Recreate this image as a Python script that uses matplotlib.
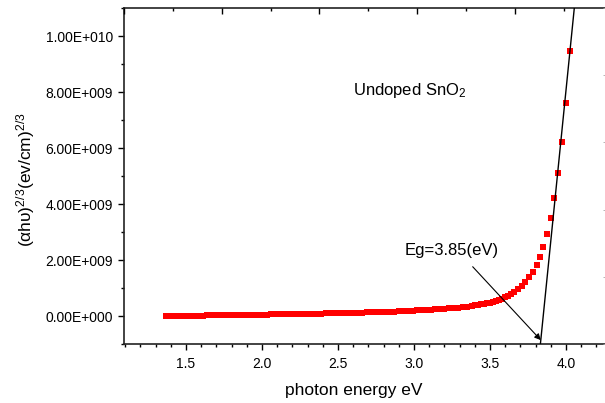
import matplotlib
matplotlib.use("Agg")
import matplotlib.pyplot as plt
from matplotlib.ticker import MultipleLocator, FuncFormatter

plt.rcParams['font.family'] = ['Liberation Sans', 'DejaVu Sans']
plt.rcParams['mathtext.fontset'] = 'custom'
plt.rcParams['mathtext.rm'] = 'Liberation Sans'
plt.rcParams['mathtext.it'] = 'Liberation Sans:italic'

# photon energy (eV) and (alpha h nu)^(2/3) in units of 1e9
energy = [
    1.37, 1.40, 1.43, 1.46, 1.49, 1.52, 1.55, 1.58, 1.61, 1.64,
    1.67, 1.70, 1.73, 1.76, 1.79, 1.82, 1.85, 1.88, 1.91, 1.94,
    1.97, 2.00, 2.03, 2.06, 2.09, 2.12, 2.15, 2.18, 2.21, 2.24,
    2.27, 2.30, 2.33, 2.36, 2.39, 2.42, 2.45, 2.48, 2.51, 2.54,
    2.57, 2.60, 2.63, 2.66, 2.69, 2.72, 2.75, 2.78, 2.81, 2.84,
    2.87, 2.90, 2.93, 2.96, 2.99, 3.02, 3.05, 3.08, 3.11, 3.14,
    3.17, 3.20, 3.23, 3.26, 3.29, 3.32, 3.35, 3.38,
    3.40, 3.42, 3.44, 3.46, 3.48, 3.50, 3.52, 3.54, 3.56, 3.58,
    3.60, 3.62, 3.638,
    3.658, 3.682, 3.709, 3.732, 3.757, 3.781, 3.807, 3.829, 3.851,
    3.875, 3.899, 3.921, 3.949, 3.974, 4.000, 4.026,
]
tauc = [
    0.000, 0.002, 0.004, 0.006, 0.008, 0.010, 0.012, 0.014, 0.016, 0.018,
    0.020, 0.022, 0.024, 0.026, 0.028, 0.030, 0.033, 0.036, 0.039, 0.042,
    0.045, 0.048, 0.051, 0.054, 0.057, 0.060, 0.063, 0.066, 0.069, 0.072,
    0.075, 0.078, 0.081, 0.084, 0.087, 0.090, 0.094, 0.098, 0.102, 0.106,
    0.110, 0.114, 0.118, 0.122, 0.127, 0.132, 0.137, 0.142, 0.148, 0.154,
    0.160, 0.167, 0.174, 0.181, 0.189, 0.197, 0.206, 0.215, 0.225, 0.236,
    0.247, 0.259, 0.272, 0.286, 0.301, 0.318, 0.338, 0.360,
    0.376, 0.393, 0.412, 0.433, 0.456, 0.482, 0.511, 0.543, 0.579, 0.619,
    0.664, 0.714, 0.770,
    0.850, 0.950, 1.080, 1.220, 1.390, 1.580, 1.820, 2.120, 2.470,
    2.930, 3.500, 4.210, 5.090, 6.210, 7.620, 9.470,
]
scale = 1e9

# linear extrapolation of the absorption edge
eg = 3.85
fit_slope = 5.38e10

y_lo, y_hi = -1e9, 1.1e10
x_lo, x_hi = 1.092, 4.263

fig = plt.figure(figsize=(6.05, 4.03), dpi=100)
ax = fig.add_axes([124 / 605, 59 / 403, 482 / 605, 336 / 403])

ax.plot(energy, [v * scale for v in tauc], linestyle='none', marker='s',
        markersize=4.4, markeredgewidth=0, color='#ff0000', zorder=3)

fit_y = [y_lo, y_hi * 1.05]
fit_x = [eg + y / fit_slope for y in fit_y]
ax.plot(fit_x, fit_y, color='black', lw=1.0, zorder=4)

ax.annotate('', xy=(3.834, -0.86e9), xytext=(3.386, 1.76e9),
            arrowprops=dict(arrowstyle='-|>', color='black', lw=0.8,
                            mutation_scale=9, shrinkA=0, shrinkB=0))
ax.text(2.939, 2.18e9, f'Eg={eg:.2f}(eV)', fontsize=12, ha='left', va='baseline')
ax.text(2.601, 7.91e9, 'Undoped SnO$_2$', fontsize=12, ha='left', va='baseline')

ax.set_xlim(x_lo, x_hi)
ax.set_ylim(y_lo, y_hi)
ax.xaxis.set_major_locator(MultipleLocator(0.5))
ax.xaxis.set_minor_locator(MultipleLocator(0.1))
ax.yaxis.set_major_locator(MultipleLocator(2e9))
ax.yaxis.set_minor_locator(MultipleLocator(1e9))


def sci_label(v, pos):
    if abs(v) < 1:
        return '0.00E+000'
    e = 0
    m = v
    while abs(m) >= 10:
        m /= 10
        e += 1
    return f'{m:.2f}E{e:+04d}'


ax.yaxis.set_major_formatter(FuncFormatter(sci_label))
ax.tick_params(which='both', direction='out', width=1.0, labelsize=10, color='black')
ax.tick_params(which='major', length=4.5)
ax.tick_params(which='minor', length=2.5)
ax.tick_params(axis='x', pad=5)
ax.tick_params(axis='y', pad=3.5)
for side in ['left', 'bottom', 'top', 'right']:
    ax.spines[side].set_linewidth(1.2)
    ax.spines[side].set_color('#222222')

ax.set_xlabel('photon energy eV', fontsize=12.5)
ax.xaxis.set_label_coords(0.477, -0.115)
ax.set_ylabel('(αhυ)$^{2/3}$(ev/cm)$^{2/3}$', fontsize=12.5)
ax.yaxis.set_label_coords(-0.18, 0.49)

# inward ticks on the top and right frame
top = ax.twiny()
top.set_xlim(0, 482 / 97.7)
top.xaxis.set_major_locator(MultipleLocator(1))
top.xaxis.set_minor_locator(MultipleLocator(0.5))
top.tick_params(which='both', direction='in', labeltop=False, width=1.0)
top.tick_params(which='major', length=4.5)
top.tick_params(which='minor', length=2.5)

right = ax.twinx()
right.set_ylim(0, 5)
right.yaxis.set_major_locator(MultipleLocator(1))
right.tick_params(direction='in', labelright=False, length=2, width=0.6, color='#aaaaaa')
for a in (top, right):
    for s in a.spines.values():
        s.set_visible(False)

fig.savefig('out.png', dpi=100)
